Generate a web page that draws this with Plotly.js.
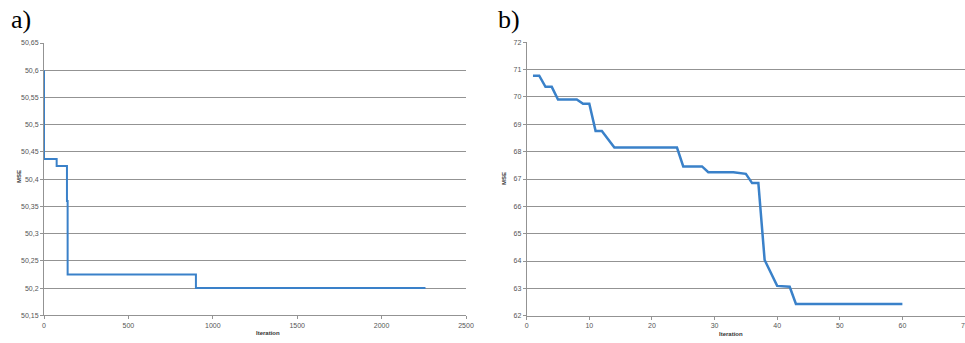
<!DOCTYPE html>
<html>
<head>
<meta charset="utf-8">
<script src="https://cdn.plot.ly/plotly-3.0.1.min.js"></script>
<style>
html,body{margin:0;padding:0;background:#fff;}
#chart{width:965px;height:343px;}
</style>
</head>
<body>
<div id="chart"></div>
<script>
// Panel a) data (step curve)
const iterA = [0, 0, 75, 136, 140, 900, 2260];
const mseA = [50.6, 50.437, 50.424, 50.36, 50.225, 50.2, 50.2];
const xTicksA = [0, 500, 1000, 1500, 2000, 2500];
const xTickTextA = ["0", "500", "1000", "1500", "2000", "2500"];
const yTicksA = [50.15, 50.2, 50.25, 50.3, 50.35, 50.4, 50.45, 50.5, 50.55, 50.6, 50.65];
const yTickTextA = ["50,15", "50,2", "50,25", "50,3", "50,35", "50,4", "50,45", "50,5", "50,55", "50,6", "50,65"];

// Panel b) data
const iterB = [1, 2, 3, 4, 5, 8, 9, 10, 11, 12, 14, 24, 25, 28, 29, 33, 35, 36, 37, 38, 40, 42, 43, 60];
const mseB = [70.78, 70.78, 70.37, 70.37, 69.91, 69.91, 69.75, 69.75, 68.76, 68.76, 68.15, 68.15, 67.46, 67.46, 67.25, 67.25, 67.19, 66.85, 66.85, 64.04, 63.09, 63.06, 62.43, 62.43];
const xTicksB = [0, 10, 20, 30, 40, 50, 60, 70];
const xTickTextB = ["0", "10", "20", "30", "40", "50", "60", "70"];
const yTicksB = [62, 63, 64, 65, 66, 67, 68, 69, 70, 71, 72];
const yTickTextB = ["62", "63", "64", "65", "66", "67", "68", "69", "70", "71", "72"];

const lineColor = '#3a81c9';
const gridColor = '#939393';
const tickFont = {family: 'Liberation Sans, Arial, sans-serif', size: 7, color: '#555'};

const traces = [
  {x: iterA, y: mseA, type: 'scatter', mode: 'lines', line: {color: lineColor, width: 2, shape: 'hv'}, xaxis: 'x', yaxis: 'y', hoverinfo: 'x+y'},
  {x: iterB, y: mseB, type: 'scatter', mode: 'lines', line: {color: lineColor, width: 2.5}, xaxis: 'x2', yaxis: 'y2', hoverinfo: 'x+y'}
];

function xax(domain, range, vals, text, anchor) {
  return {domain: domain, range: range, tickmode: 'array', tickvals: vals, ticktext: text,
    showgrid: false, zeroline: false, showline: true, linecolor: gridColor, linewidth: 1,
    ticks: 'outside', ticklen: 3, tickcolor: gridColor, tickfont: tickFont, anchor: anchor,
    ticklabeloverflow: 'allow', fixedrange: true};
}
function yax(domain, range, vals, text, anchor) {
  return {domain: domain, range: range, tickmode: 'array', tickvals: vals, ticktext: text,
    showgrid: true, gridcolor: gridColor, gridwidth: 1, zeroline: false, showline: true,
    linecolor: gridColor, linewidth: 1, ticks: 'outside', ticklen: 3, tickcolor: gridColor,
    tickfont: tickFont, anchor: anchor, fixedrange: true};
}

const layout = {
  width: 965, height: 343,
  margin: {l: 0, r: 0, t: 0, b: 0},
  paper_bgcolor: '#fff', plot_bgcolor: '#fff',
  showlegend: false,
  xaxis: xax([44/965, 466/965], [0, 2500], xTicksA, xTickTextA, 'y'),
  yaxis: yax([(343-315.3)/343, (343-43)/343], [50.15, 50.65], yTicksA, yTickTextA, 'x'),
  xaxis2: xax([526.7/965, 1.0], [0, 70], xTicksB, xTickTextB, 'y2'),
  yaxis2: yax([(343-315.7)/343, (343-42.3)/343], [62, 72], yTicksB, yTickTextB, 'x2'),
  annotations: [
    {text: 'a)', xref: 'paper', yref: 'paper', x: 9/965, y: 1 - 3/343, xanchor: 'left', yanchor: 'top', showarrow: false,
     font: {family: 'Liberation Serif, Times New Roman, serif', size: 26, color: '#000'}},
    {text: 'b)', xref: 'paper', yref: 'paper', x: 496/965, y: 1 - 3/343, xanchor: 'left', yanchor: 'top', showarrow: false,
     font: {family: 'Liberation Serif, Times New Roman, serif', size: 26, color: '#000'}},
    {text: '<b>MSE</b>', xref: 'paper', yref: 'paper', x: 14/965, y: 1 - 177/343, textangle: -90, showarrow: false,
     font: {family: 'Liberation Sans, Arial, sans-serif', size: 6, color: '#333'}},
    {text: '<b>MSE</b>', xref: 'paper', yref: 'paper', x: 504/965, y: 1 - 179/343, textangle: -90, showarrow: false,
     font: {family: 'Liberation Sans, Arial, sans-serif', size: 6, color: '#333'}},
    {text: '<b>Iteration</b>', xref: 'paper', yref: 'paper', x: 254/965, y: 1 - 338/343, showarrow: false,
     font: {family: 'Liberation Sans, Arial, sans-serif', size: 6, color: '#333'}},
    {text: '<b>Iteration</b>', xref: 'paper', yref: 'paper', x: 745/965, y: 1 - 339/343, showarrow: false,
     font: {family: 'Liberation Sans, Arial, sans-serif', size: 6, color: '#333'}}
  ]
};

Plotly.newPlot('chart', traces, layout, {displayModeBar: false, staticPlot: true});
</script>
</body>
</html>
